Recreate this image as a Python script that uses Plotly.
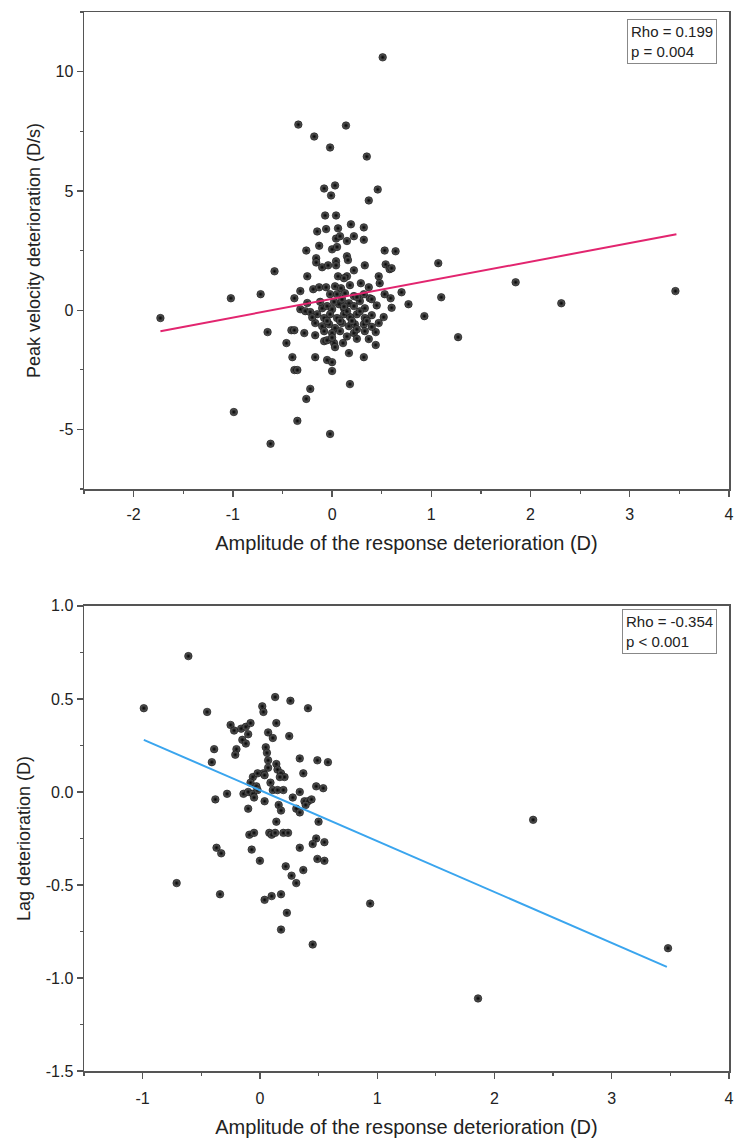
import plotly.graph_objects as go

# ---------------- Top panel data ----------------
top_x = [-0.34, 0.14, -0.18, -0.02, 0.35, -0.08, 0.03, -0.01, 0.46, 0.37, -0.07, 0.04,
         -0.15, -0.06, 0.06, 0.19, 0.32, 0.04, 0.08, 0.15, 0.22, 0.32, -0.26, -0.13, 0.00, 0.05,
         0.53, 0.64, -0.16, -0.16, -0.10, -0.04, 0.04, 0.04, 0.15, 0.16, 0.22, 0.33, 0.54, 0.58,
         0.60, -0.58, 1.07, -0.25, 0.06, 0.15, 0.12, 0.47, 0.48, 0.29, -0.72, -1.02, 1.10, 0.51,
         -0.38, -0.32, -0.19, -0.13, -0.06, 0.03, 0.09, 0.18, 0.37,
         -0.02, 0.05, 0.13, 0.22, 0.32, 0.38, 0.53, 0.59, 0.70, 0.77, 0.93,
         -0.32, -0.27, -0.22, -0.10, -0.05, 0.00, 0.07, 0.12, 0.17, 0.22, 0.28, 0.33, 0.40,
         -0.15, -0.08, -0.02, 0.05, 0.12, 0.18, 0.25, 0.33, 0.40,
         -0.17, -0.10, -0.03, 0.03, 0.10, 0.17, 0.23, 0.32, 0.47, 0.52,
         -0.65, -0.41, -0.38, -0.28, -0.17,
         -0.08, 0.00, 0.08, 0.22, 0.33, 0.44,
         -0.08, -0.05, 0.02, 0.03, 0.11, 0.37, 0.44, -0.46,
         -0.40, -0.17, -0.05, 0.00, 0.17, 0.32,
         -0.38, -0.35, 0.00, 0.18, -0.22, -0.26, -0.99, -0.35, -0.02, -0.62,
         -1.73, 1.85, 2.31, 3.46, 1.27,
         0.02, 0.10, 0.15, 0.25, -0.12, 0.08, 0.20, 0.28, -0.05, 0.12, 0.35, 0.00, 0.15, 0.25,
         -0.20, 0.45, 0.60, -0.25, 0.40, 0.25]
top_y = [7.78, 7.74, 7.28, 6.82, 6.44, 5.10, 5.23, 4.81, 5.06, 4.60, 3.97, 3.97,
         3.30, 3.40, 3.43, 3.60, 3.47, 3.00, 3.10, 2.90, 3.10, 2.95, 2.50, 2.70, 2.55, 2.65,
         2.50, 2.47, 2.18, 2.00, 1.80, 1.88, 2.05, 1.88, 2.26, 2.10, 1.67, 1.88, 1.92, 1.72,
         1.76, 1.63, 1.97, 1.42, 1.42, 1.42, 1.34, 1.42, 1.13, 1.13, 0.67, 0.50, 0.54, 10.6,
         0.50, 0.80, 0.88, 0.96, 0.96, 1.00, 0.92, 1.05, 0.96,
         0.67, 0.67, 0.71, 0.59, 0.67, 0.50, 0.67, 0.50, 0.75, 0.25, -0.25,
         0.04, -0.04, -0.08, 0.08, 0.17, 0.04, 0.25, 0.08, 0.29, 0.17, 0.38, 0.08, 0.46,
         -0.17, -0.33, -0.17, -0.33, -0.17, -0.29, -0.17, -0.33, -0.21,
         -0.54, -0.67, -0.59, -0.75, -0.54, -0.67, -0.59, -0.59, -0.54, -0.29,
         -0.92, -0.84, -0.84, -0.96, -1.05,
         -0.88, -0.96, -0.88, -0.96, -0.88, -0.92,
         -1.30, -1.26, -1.38, -1.55, -1.38, -1.21, -1.46, -1.38,
         -1.97, -1.97, -2.09, -2.18, -1.80, -1.97,
         -2.51, -2.51, -2.55, -3.10, -3.30, -3.72, -4.27, -4.64, -5.19, -5.60,
         -0.33, 1.17, 0.29, 0.80, -1.13,
         0.35, 0.45, -0.05, 0.55, 0.35, -0.45, -0.45, -0.05, -0.45, 0.15, -0.45, -1.15, -1.10, -1.20,
         -0.30, 0.20, 0.10, 0.30, -0.70, -0.80]
top_fit_x = [-1.73, 3.47]
top_fit_y = [-0.88, 3.18]
top_stats = "Rho = 0.199<br>p = 0.004"
top_xticks = [-2, -1, 0, 1, 2, 3, 4]
top_xticklabels = ["-2", "-1", "0", "1", "2", "3", "4"]
top_yticks = [-5, 0, 5, 10]
top_yticklabels = ["-5", "0", "5", "10"]

# ---------------- Bottom panel data ----------------
bot_x = [-0.61, -0.99, -0.45, 0.13, 0.02, 0.03, 0.14, -0.25, -0.22, -0.16, -0.12, -0.08, -0.10,
         0.07, 0.11, -0.15, -0.12, -0.39, -0.41, -0.20, -0.21, 0.05, 0.06, 0.07, 0.14, 0.26, 0.41,
         0.25, 0.07, 0.15, 0.18, 0.21, 0.34, 0.49, 0.58, 0.37,
         -0.06, -0.02, 0.03, 0.04, -0.08, -0.03, 0.09, 0.17, 0.48, 0.54,
         -0.28, -0.38, -0.14, -0.10, -0.06, -0.02, -0.05, 0.11, 0.15, 0.20, 0.04, 0.28, 0.34, 0.38,
         0.41, 0.44, 0.39, 0.16, 0.18, 0.31, 0.34, -0.10, 0.14, -0.09, 0.08, 0.10, 0.13, 0.20, 0.24,
         0.48,
         -0.37, -0.33, -0.71, -0.34, 0.04, 0.10, 0.18, 0.23, 0.45, 0.94, 2.33, 1.86, 3.48,
         0.34, 0.37, 0.49, 0.55, 0.55, 0.31, 0.22, 0.27, -0.07, 0.00, 0.18, 0.45, 0.50, -0.05]
bot_y = [0.73, 0.45, 0.43, 0.51, 0.46, 0.43, 0.37, 0.36, 0.33, 0.34, 0.35, 0.37, 0.31,
         0.32, 0.29, 0.28, 0.26, 0.23, 0.16, 0.23, 0.20, 0.24, 0.21, 0.17, 0.15, 0.49, 0.45,
         0.30, 0.13, 0.12, 0.10, 0.08, 0.18, 0.17, 0.16, 0.10,
         0.08, 0.10, 0.10, 0.09, 0.05, 0.03, 0.05, 0.08, 0.03, 0.02,
         -0.01, -0.04, -0.01, 0.00, -0.01, 0.01, -0.03, 0.01, 0.01, 0.01, -0.05, -0.03, 0.00, -0.05,
         -0.05, -0.04, -0.07, -0.07, -0.10, -0.09, -0.11, -0.09, -0.16, -0.23, -0.22, -0.23, -0.22,
         -0.22, -0.22, -0.25,
         -0.30, -0.33, -0.49, -0.55, -0.58, -0.56, -0.74, -0.65, -0.82, -0.60, -0.15, -1.11, -0.84,
         -0.30, -0.42, -0.36, -0.27, -0.37, -0.49, -0.40, -0.45, -0.31, -0.37, -0.55, -0.28, -0.16,
         -0.22]
bot_fit_x = [-0.99, 3.47]
bot_fit_y = [0.28, -0.94]
bot_stats = "Rho = -0.354<br>p < 0.001"
bot_xticks = [-1, 0, 1, 2, 3, 4]
bot_xticklabels = ["-1", "0", "1", "2", "3", "4"]
bot_yticks = [-1.5, -1.0, -0.5, 0.0, 0.5, 1.0]
bot_yticklabels = ["-1.5", "-1.0", "-0.5", "0.0", "0.5", "1.0"]

x_title = "Amplitude of the response deterioration (D)"
top_y_title = "Peak velocity deterioration (D/s)"
bot_y_title = "Lag deterioration (D)"

FONT = "Liberation Sans, Arial, sans-serif"
AX = "#555555"
marker = dict(size=7.5, color="#6a6a6a", line=dict(width=0.6, color="#000"),
              gradient=dict(type="radial", color="#000000"))

fig = go.Figure()
fig.add_trace(go.Scatter(x=top_x, y=top_y, mode="markers", marker=marker,
                         xaxis="x", yaxis="y", showlegend=False))
fig.add_trace(go.Scatter(x=top_fit_x, y=top_fit_y, mode="lines",
                         line=dict(color="#e2256f", width=2), xaxis="x", yaxis="y",
                         showlegend=False))
fig.add_trace(go.Scatter(x=bot_x, y=bot_y, mode="markers", marker=marker,
                         xaxis="x2", yaxis="y2", showlegend=False))
fig.add_trace(go.Scatter(x=bot_fit_x, y=bot_fit_y, mode="lines",
                         line=dict(color="#3aa5ee", width=2), xaxis="x2", yaxis="y2",
                         showlegend=False))

axis_common = dict(showgrid=False, zeroline=False, showline=True, linecolor=AX,
                   linewidth=1.5, mirror=True, ticks="outside", ticklen=6, tickwidth=1.3,
                   tickcolor=AX, tickfont=dict(size=16, color="#222", family=FONT),
                   ticklabeloverflow="allow")
xt_font = dict(size=20, color="#222", family=FONT)
yt_font = dict(size=18, color="#222", family=FONT)

fig.update_layout(
    width=738, height=1146,
    margin=dict(l=84, r=4, t=10, b=75),
    paper_bgcolor="white", plot_bgcolor="white",
    font=dict(family=FONT, color="#222"),
    hovermode=False,
    xaxis=dict(axis_common, domain=[0, 1], anchor="y", range=[-2.5, 4],
               tickmode="array", tickvals=top_xticks, ticktext=top_xticklabels,
               ticklabelstandoff=4,
               minor=dict(ticks="outside", ticklen=3, dtick=0.5, tick0=0, tickcolor=AX),
               title=dict(text=x_title, standoff=14, font=xt_font)),
    yaxis=dict(axis_common, domain=[0.5495, 1], anchor="x", range=[-7.5, 12.5],
               tickmode="array", tickvals=top_yticks, ticktext=top_yticklabels,
               minor=dict(ticks="outside", ticklen=3, dtick=2.5, tick0=0, tickcolor=AX),
               title=dict(text=top_y_title, standoff=10, font=yt_font)),
    xaxis2=dict(axis_common, domain=[0, 1], anchor="y2", range=[-1.5, 4],
                tickmode="array", tickvals=bot_xticks, ticktext=bot_xticklabels,
                ticklabelstandoff=6,
                minor=dict(ticks="outside", ticklen=3, dtick=0.5, tick0=0, tickcolor=AX),
                title=dict(text=x_title, standoff=14, font=xt_font)),
    yaxis2=dict(axis_common, domain=[0, 0.4392], anchor="x2", range=[-1.5, 1.0],
                tickmode="array", tickvals=bot_yticks, ticktext=bot_yticklabels,
                minor=dict(ticks="outside", ticklen=3, dtick=0.25, tick0=0, tickcolor=AX),
                title=dict(text=bot_y_title, standoff=10, font=yt_font)),
    annotations=[
        dict(text=top_stats, xref="x domain", yref="y domain", x=0.982, y=0.985,
             xanchor="right", yanchor="top", align="left", showarrow=False,
             font=dict(size=15, color="#222", family=FONT), bordercolor="#888888",
             borderwidth=1, borderpad=3, bgcolor="white"),
        dict(text=bot_stats, xref="x2 domain", yref="y2 domain", x=0.982, y=0.994,
             xanchor="right", yanchor="top", align="left", showarrow=False,
             font=dict(size=15, color="#222", family=FONT), bordercolor="#888888",
             borderwidth=1, borderpad=3, bgcolor="white"),
    ],
)

# remove the browser's default 8px page margin so the figure sits at the window origin
fig.write_html("out.html",
               config={"displayModeBar": False, "staticPlot": True},
               post_script="document.body.style.margin='0';document.body.style.overflow='hidden';")
